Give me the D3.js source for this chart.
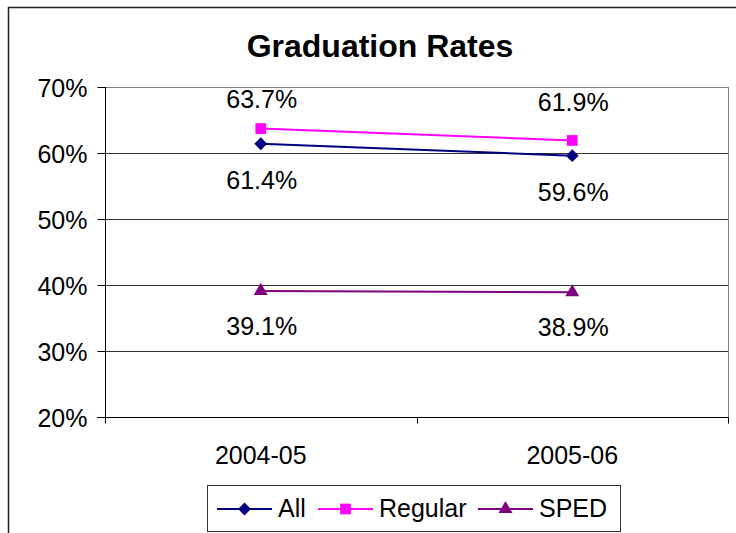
<!DOCTYPE html>
<html>
<head>
<meta charset="utf-8">
<script src="https://cdn.jsdelivr.net/npm/d3@7"></script>
<style>
  html, body { margin: 0; padding: 0; background: #fff; }
  svg { display: block; font-family: "Liberation Sans", Arial, sans-serif; }
</style>
</head>
<body>
<svg id="chart" width="736" height="533"></svg>
<script>
// ---- data ----
const categories = ["2004-05", "2005-06"];
const seriesNames = ["All", "Regular", "SPED"];
const allValues = [0.614, 0.596];
const regularValues = [0.637, 0.619];
const spedValues = [0.391, 0.389];
const yTicks = [0.2, 0.3, 0.4, 0.5, 0.6, 0.7];
const title = "Graduation Rates";

// ---- layout / style ----
const W = 736, H = 533;
const plot = { left: 105, right: 728, top: 87, bottom: 417 };
const colors = { All: "#000080", Regular: "#FF00FF", SPED: "#800080" };
const fontSize = 25;

const svg = d3.select("#chart");

// outer chart border
svg.append("rect")
  .attr("x", 8.5).attr("y", 7.5)
  .attr("width", W + 10).attr("height", H + 10)
  .attr("fill", "#fff").attr("stroke", "#222").attr("stroke-width", 1.5);

const x = d3.scaleBand().domain(categories).range([plot.left, plot.right]);
const cx = d => x(d) + x.bandwidth() / 2;
const y = d3.scaleLinear().domain([0.2, 0.7]).range([plot.bottom, plot.top]);

// plot area border (gray)
svg.append("rect")
  .attr("x", plot.left + 0.5).attr("y", plot.top + 0.5)
  .attr("width", plot.right - plot.left).attr("height", plot.bottom - plot.top)
  .attr("fill", "none").attr("stroke", "#808080").attr("stroke-width", 1);

// gridlines
svg.append("g").selectAll("line")
  .data(yTicks.filter(t => t > 0.2 && t < 0.7))
  .join("line")
  .attr("x1", plot.left).attr("x2", plot.right)
  .attr("y1", d => Math.round(y(d)) + 0.5).attr("y2", d => Math.round(y(d)) + 0.5)
  .attr("stroke", "#333").attr("stroke-width", 1);

// y axis
const yAxis = d3.axisLeft(y).tickValues(yTicks).tickFormat(d3.format(".0%"))
  .tickSize(8).tickPadding(10);
const gy = svg.append("g").attr("transform", `translate(${plot.left + 0.5},0)`).call(yAxis);
gy.select(".domain").attr("stroke", "#000").attr("d", `M0,${plot.top}V${plot.bottom + 5}`);
gy.selectAll(".tick line").attr("stroke", "#000");
gy.selectAll("text").attr("font-size", fontSize).attr("fill", "#000")
  .attr("font-family", "Liberation Sans, Arial, sans-serif").attr("dy", "0.36em");

// x axis
const gx = svg.append("g").attr("transform", `translate(0,${plot.bottom + 0.5})`);
gx.append("line").attr("x1", plot.left - 8).attr("x2", plot.right).attr("stroke", "#000");
const boundaries = [...categories.map(c => x(c)), plot.right];
gx.selectAll("line.tk").data(boundaries).join("line").attr("class", "tk")
  .attr("x1", d => Math.round(d) + 0.5).attr("x2", d => Math.round(d) + 0.5)
  .attr("y1", 0).attr("y2", 6).attr("stroke", "#000");
gx.selectAll("text").data(categories).join("text")
  .attr("x", d => cx(d)).attr("y", 46)
  .attr("text-anchor", "middle").attr("font-size", fontSize).attr("fill", "#000")
  .text(d => d);

// title
svg.append("text").attr("x", 380).attr("y", 57).attr("text-anchor", "middle")
  .attr("font-size", 32).attr("font-weight", "bold").attr("fill", "#000")
  .text(title);

// series
const series = [
  { name: "All", values: allValues, marker: "diamond", labelDy: [45, 45] },
  { name: "Regular", values: regularValues, marker: "square", labelDy: [-21, -29] },
  { name: "SPED", values: spedValues, marker: "triangle", labelDy: [44, 44] }
];
const markerPath = {
  diamond: d3.symbol().type(d3.symbolDiamond2).size(105),
  square: d3.symbol().type(d3.symbolSquare).size(115),
  triangle: d3.symbol().type(d3.symbolTriangle).size(85)
};
const line = d3.line().x((d, i) => cx(categories[i])).y(d => y(d));

series.forEach(s => {
  const g = svg.append("g");
  g.append("path").datum(s.values).attr("d", line)
    .attr("fill", "none").attr("stroke", colors[s.name]).attr("stroke-width", 2);
  g.selectAll("path.m").data(s.values).join("path").attr("class", "m")
    .attr("transform", (d, i) => `translate(${cx(categories[i])},${y(d)})`)
    .attr("d", markerPath[s.marker]()).attr("fill", colors[s.name]);
  g.selectAll("text").data(s.values).join("text")
    .attr("x", (d, i) => cx(categories[i]) + 1)
    .attr("y", (d, i) => y(d) + s.labelDy[i])
    .attr("text-anchor", "middle").attr("font-size", fontSize).attr("fill", "#000")
    .text(d => d3.format(".1%")(d));
});

// legend
const lg = svg.append("g");
lg.append("rect").attr("x", 207.5).attr("y", 485.5).attr("width", 413).attr("height", 46)
  .attr("fill", "#fff").attr("stroke", "#333").attr("stroke-width", 1);
const legendX = [217, 318, 478];
seriesNames.forEach((n, i) => {
  const s = series[i];
  const x0 = legendX[i], ly = 509;
  lg.append("line").attr("x1", x0).attr("x2", x0 + 55).attr("y1", ly).attr("y2", ly)
    .attr("stroke", colors[n]).attr("stroke-width", 2);
  lg.append("path").attr("transform", `translate(${x0 + 27.5},${ly})`)
    .attr("d", markerPath[s.marker]()).attr("fill", colors[n]);
  lg.append("text").attr("x", x0 + 61).attr("y", ly + 8).attr("font-size", fontSize)
    .attr("fill", "#000").text(n);
});
</script>
</body>
</html>
